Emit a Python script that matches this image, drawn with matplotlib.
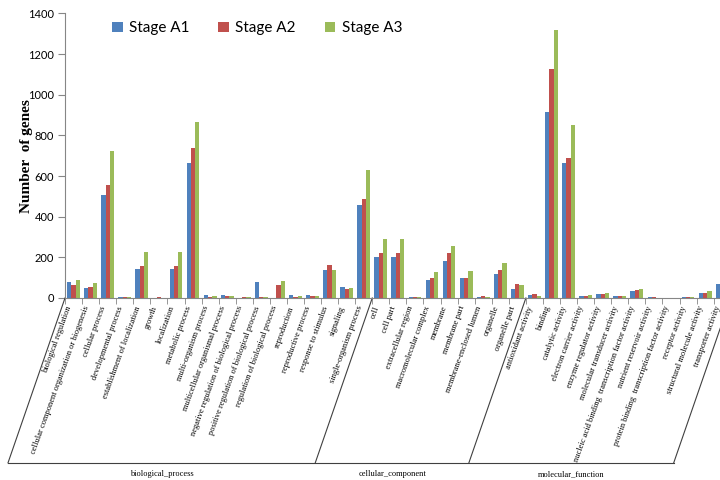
import numpy as np
import matplotlib.pyplot as plt

bio_terms = [
    "biological regulation", "cellular component organization or biogenesis",
    "cellular process", "developmental process", "establishment of localization",
    "growth", "localization", "metabolic process", "multi-organism process",
    "multicellular organismal process", "negative regulation of biological process",
    "positive regulation of biological process", "regulation of biological process",
    "reproduction", "reproductive process", "response to stimulus", "signaling",
    "single-organism process",
]
cc_terms = [
    "cell", "cell part", "extracellular region", "macromolecular complex",
    "membrane", "membrane part", "membrane-enclosed lumen", "organelle",
    "organelle part",
]
mf_terms = [
    "antioxidant activity", "binding", "catalytic activity",
    "electron carrier activity", "enzyme regulator activity",
    "molecular transducer activity",
    "nucleic acid binding  transcription factor activity",
    "nutrient reservoir activity",
    "protein binding  transcription factor activity", "receptor activity",
    "structural molecule activity", "transporter activity",
]
groups = ["biological_process", "cellular_component", "molecular_function"]

stage_a1 = [80, 49, 507, 4, 144, 1, 144, 664, 15, 15, 2, 77, 0, 15, 15, 138, 55, 459,
            203, 203, 6, 90, 183, 97, 5, 118, 42,
            13, 914, 664, 8, 18, 10, 33, 3, 2, 5, 25, 68]
stage_a2 = [65, 55, 554, 5, 159, 4, 159, 739, 7, 10, 4, 3, 65, 7, 8, 162, 42, 487,
            223, 223, 6, 97, 219, 100, 12, 138, 67,
            18, 1124, 688, 8, 18, 10, 40, 3, 2, 5, 25, 72]
stage_a3 = [90, 74, 723, 3, 228, 1, 228, 867, 10, 10, 4, 3, 84, 10, 10, 138, 49, 631,
            288, 288, 6, 128, 254, 131, 6, 172, 62,
            10, 1316, 851, 17, 23, 10, 43, 1, 2, 4, 33, 78]

terms = bio_terms + cc_terms + mf_terms
sizes = [len(bio_terms), len(cc_terms), len(mf_terms)]
n = len(terms)
x = np.arange(n) + 0.5
w = 0.25

colors = ["#4F81BD", "#C0504D", "#9BBB59"]
names = ["Stage A1", "Stage A2", "Stage A3"]

fig = plt.figure(figsize=(7.2, 4.8), dpi=100)
ax = fig.add_axes([0.0903, 0.3792, 0.9246, 0.5929])

for k, vals in enumerate([stage_a1, stage_a2, stage_a3]):
    ax.bar(x + (k - 1) * w, vals, width=w, color=colors[k], label=names[k],
           linewidth=0)

ax.set_xlim(0, n)
ax.set_ylim(0, 1400)
ax.set_yticks(range(0, 1401, 200))
ax.tick_params(axis="y", length=5, color="#868686", labelsize=8, pad=3)
for t in ax.get_yticklabels():
    t.set_fontfamily("Lato")

ax.set_xticks(x)
ax.set_xticklabels(terms, rotation=70, ha="right", va="top",
                   fontsize=6, family="Liberation Serif")
ax.tick_params(axis="x", length=0, pad=5)
ax.set_xticks(np.arange(n + 1), minor=True)
ax.tick_params(axis="x", which="minor", length=4, color="#868686")

for s in ["top", "right"]:
    ax.spines[s].set_visible(False)
for s in ["left", "bottom"]:
    ax.spines[s].set_color("#868686")
    ax.spines[s].set_linewidth(0.8)

ax.set_ylabel("Number  of genes", fontsize=11, fontweight="bold",
              family="Liberation Serif", labelpad=-4)

# slanted group dividers below the category labels
dx = -3.34
y_low = -811
bounds = np.concatenate([[0], np.cumsum(sizes)])
for b in bounds:
    ax.plot([b, b + dx], [0, y_low], color="#404040", lw=0.8, clip_on=False)
ax.plot([dx, bounds[-1] + dx], [y_low, y_low], color="#404040", lw=0.8,
        clip_on=False)
for g, lo, hi in zip(groups, bounds[:-1], bounds[1:]):
    ax.text((lo + hi) / 2 + dx, y_low - 55, g, ha="center", va="center",
            fontsize=6, family="Liberation Serif")

# legend across the top
leg = ax.legend(loc="upper left", bbox_to_anchor=(0.05, 1.02), ncol=3,
                frameon=False, handlelength=0.7, handleheight=0.7,
                handletextpad=0.4, columnspacing=1.9,
                prop={"family": "Lato", "size": 11})

fig.savefig("out.png", dpi=100)
